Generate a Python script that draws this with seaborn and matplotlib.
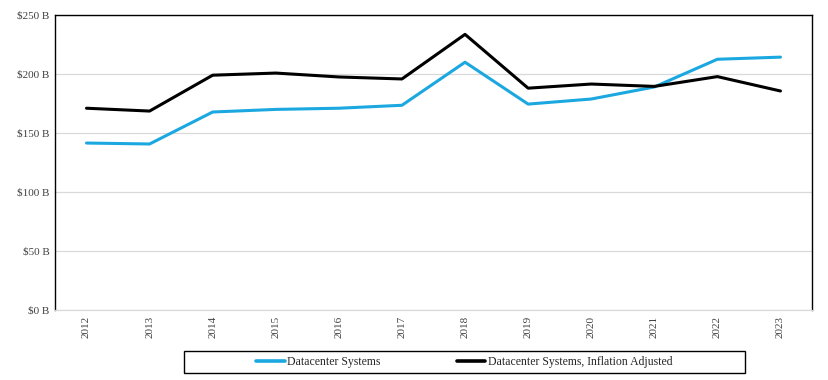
import pandas as pd
import seaborn as sns
import matplotlib.pyplot as plt
from matplotlib.patches import Rectangle

# Values ($ billions)
years = [2012, 2013, 2014, 2015, 2016, 2017, 2018, 2019, 2020, 2021, 2022, 2023]
datacenter = [141.5, 140.7, 167.8, 170.0, 171.0, 173.5, 210.0, 174.5, 178.8, 189.0, 212.5, 214.3]
datacenter_infl = [171.0, 168.6, 199.0, 200.8, 197.5, 195.8, 233.6, 188.0, 191.5, 189.5, 197.8, 185.6]
series_names = ["Datacenter Systems", "Datacenter Systems, Inflation Adjusted"]

df = pd.DataFrame({
    "Year": years * 2,
    "Value": datacenter + datacenter_infl,
    "Series": [series_names[0]] * len(years) + [series_names[1]] * len(years),
})

sns.set_style("white")
plt.rcParams['font.family'] = ['Liberation Serif', 'DejaVu Serif']

fig = plt.figure(figsize=(8.29, 3.8), dpi=100)
ax = fig.add_axes([0.0663, 0.1842, 0.9132, 0.7763])

palette = {series_names[0]: "#1BA8E0", series_names[1]: "#000000"}
sns.lineplot(data=df, x="Year", y="Value", hue="Series", palette=palette,
             linewidth=2.2, ax=ax, legend=False)

ax.set_xlim(2011.5, 2023.5)
ax.set_ylim(0, 250)
ax.set_yticks([0, 50, 100, 150, 200, 250])
ax.set_yticklabels([f"${v} B" for v in [0, 50, 100, 150, 200, 250]])
ax.set_xticks(years)
ax.set_xticklabels([str(y) for y in years], rotation=90)
ax.tick_params(axis='both', labelsize=8, colors="#404040", length=0, pad=4)
ax.set_xlabel("")
ax.set_ylabel("")

ax.yaxis.grid(True, color="#D9D9D9", linewidth=0.9)
ax.set_axisbelow(True)
for side in ["left", "top", "right"]:
    ax.spines[side].set_color("black")
    ax.spines[side].set_linewidth(1.0)
ax.spines["bottom"].set_color("#D9D9D9")
ax.spines["bottom"].set_linewidth(0.9)

# Legend with a separate box
from matplotlib.lines import Line2D
handles = [Line2D([], [], color=palette[n], linewidth=2.6) for n in series_names]
fig.legend(handles, series_names, loc="center", bbox_to_anchor=(0.56, 0.047),
           ncol=2, frameon=False, fontsize=8.5, handlelength=2.4,
           handletextpad=0.2, columnspacing=6.5)
fig.patches.append(Rectangle((184 / 829, 1 - 373 / 380), (745 - 184) / 829, 22 / 380,
                             transform=fig.transFigure, fill=False,
                             edgecolor="black", linewidth=1.0))

fig.savefig("out.png", dpi=100)
